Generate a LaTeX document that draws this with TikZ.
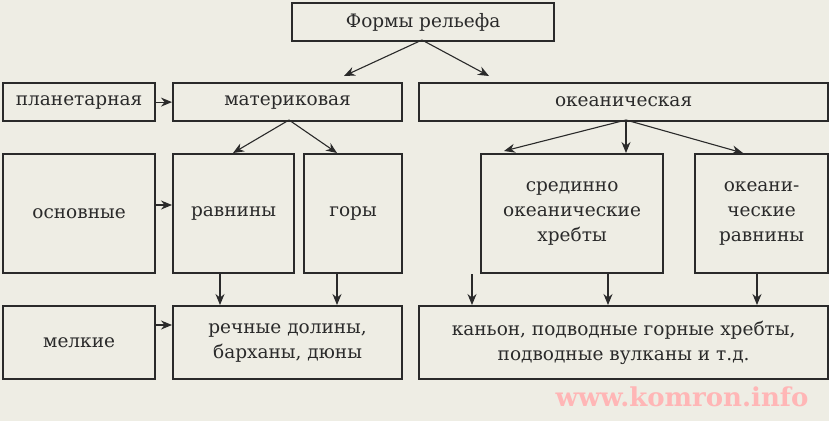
\documentclass[tikz,border=0pt]{standalone}
\usepackage{fontspec}
\setmainfont{DejaVu Serif}
\usetikzlibrary{arrows.meta}
\definecolor{bg}{HTML}{EEEDE4}
\definecolor{ln}{HTML}{2A2A2A}
\tikzset{
 box/.style={draw=ln,line width=2.2pt,fill=bg,align=center,font=\fontsize{18.5}{25}\selectfont,inner sep=0pt,text=ln},
 arr/.style={draw=ln,line width=1.1pt,-{Stealth[length=11pt,width=9pt]}}
}
\newcommand{\bx}[6]{\node[box,minimum width=#4-#2,minimum height=#5-#3,anchor=north west] (#1) at (#2,#3) {#6};}
\begin{document}
\begin{tikzpicture}[x=1pt,y=-1pt]
\fill[bg] (0,0) rectangle (829,421);
\useasboundingbox (0,0) rectangle (829,421);
\bx{top}{291}{2}{553}{40}{Формы рельефа}
\bx{plan}{2}{82}{154}{120}{планетарная}
\bx{mat}{172}{82}{401}{120}{материковая}
\bx{oce}{418}{82}{827}{120}{океаническая}
\bx{osn}{2}{153}{154}{272}{основные}
\bx{rav}{172}{153}{293}{272}{равнины}
\bx{gor}{303}{153}{401}{272}{горы}
\bx{sred}{480}{153}{662}{272}{срединно\\океанические\\хребты}
\bx{orav}{694}{153}{827}{272}{океани-\\ческие\\равнины}
\bx{mel}{2}{305}{154}{378}{мелкие}
\bx{rech}{172}{305}{401}{378}{речные долины,\\барханы, дюны}
\bx{kan}{418}{305}{827}{378}{каньон, подводные горные хребты,\\подводные вулканы и т.д.}
\coordinate (t0) at (422,40);
\draw[arr] (t0) -- (344,76);
\draw[arr] (t0) -- (489,76);
\draw[arr] (plan) -- (mat);
\coordinate (m0) at (289,120);
\draw[arr] (m0) -- (233,153);
\draw[arr] (m0) -- (337,153);
\coordinate (o0) at (626,120);
\draw[arr] (o0) -- (504,151);
\draw[arr] (o0) -- (626,153);
\draw[arr] (o0) -- (743,153);
\draw[arr] (osn.east |- 0,205) -- (rav.west |- 0,205);
\draw[arr] (mel.east |- 0,325) -- (rech.west |- 0,325);
\draw[arr] (220,272) -- (220,305);
\draw[arr] (337,272) -- (337,305);
\draw[arr] (472,274) -- (472,305);
\draw[arr] (608,272) -- (608,305);
\draw[arr] (757,272) -- (757,305);
\node[text=pink!70!red!60,font=\bfseries\fontsize{26}{26}\selectfont,anchor=east] (wm) at (812,397) {www.komron.info};
\end{tikzpicture}
\end{document}
